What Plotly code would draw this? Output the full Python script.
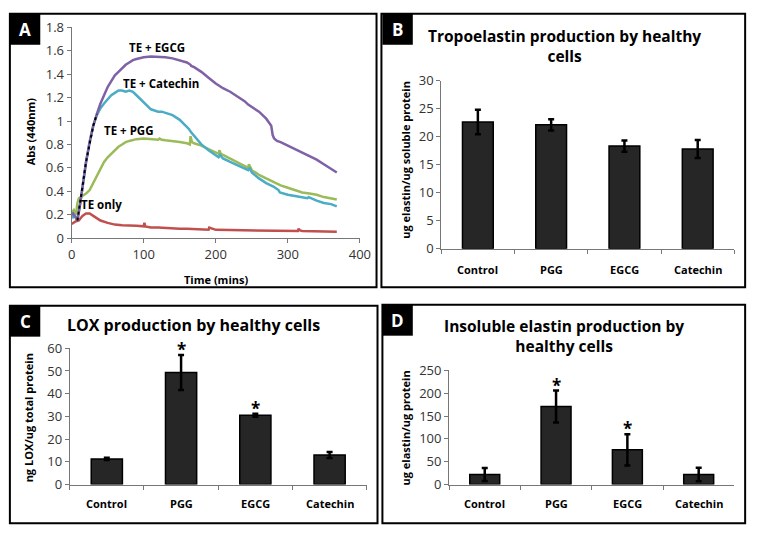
import plotly.graph_objects as go

W, H = 763, 538

# ---- Panel A: absorbance time courses
egcg_t = [0, 2, 4, 6, 8, 12, 16, 20, 25, 30, 35, 40, 45, 50, 55, 60, 65, 70, 75, 80, 85, 90, 95, 100, 110,
          120, 130, 140, 150, 160, 165, 166, 170, 180, 190, 200, 210, 220, 230, 240, 245, 250, 260, 270,
          277, 279, 281, 285, 290, 300, 310, 320, 330, 340, 350, 360, 368]
egcg_v = [0.2, 0.21, 0.19, 0.17, 0.15, 0.3, 0.48, 0.65, 0.82, 0.96, 1.06, 1.15, 1.22, 1.29, 1.34, 1.39, 1.42,
          1.45, 1.48, 1.5, 1.52, 1.53, 1.54, 1.545, 1.55, 1.55, 1.545, 1.535, 1.52, 1.5, 1.48, 1.47, 1.46,
          1.42, 1.37, 1.32, 1.28, 1.25, 1.21, 1.17, 1.14, 1.12, 1.08, 1.02, 0.96, 0.88, 0.85, 0.83, 0.82,
          0.79, 0.76, 0.73, 0.7, 0.67, 0.63, 0.59, 0.56]

cat_t = [0, 2, 4, 6, 8, 12, 16, 20, 25, 30, 35, 40, 45, 50, 55, 60, 65, 70, 75, 80, 85, 90, 95, 100, 105, 110,
         115, 120, 125, 130, 140, 150, 160, 163, 165, 170, 180, 190, 200, 204, 206, 210, 220, 230, 240, 245,
         247, 250, 260, 270, 280, 287, 289, 300, 310, 320, 327, 329, 340, 350, 360, 368]
cat_v = [0.2, 0.18, 0.2, 0.17, 0.15, 0.3, 0.48, 0.65, 0.82, 0.96, 1.05, 1.11, 1.15, 1.19, 1.22, 1.24, 1.26,
         1.26, 1.25, 1.26, 1.25, 1.22, 1.19, 1.16, 1.13, 1.1, 1.09, 1.08, 1.08, 1.07, 1.05, 1.01, 0.95, 0.93,
         0.91, 0.87, 0.8, 0.75, 0.71, 0.69, 0.71, 0.68, 0.65, 0.62, 0.59, 0.58, 0.6, 0.56, 0.51, 0.47, 0.44,
         0.41, 0.39, 0.37, 0.36, 0.35, 0.34, 0.35, 0.32, 0.3, 0.29, 0.27]

pgg_t = [0, 3, 6, 8, 10, 15, 20, 25, 30, 35, 40, 45, 50, 55, 60, 65, 70, 75, 80, 90, 100, 110, 120, 122, 125,
         130, 140, 150, 160, 164, 165, 167, 170, 180, 190, 200, 204, 205, 207, 210, 220, 230, 240, 245, 246,
         248, 250, 260, 270, 280, 290, 300, 310, 320, 330, 340, 350, 360, 368]
pgg_v = [0.22, 0.24, 0.2, 0.3, 0.34, 0.36, 0.38, 0.41, 0.47, 0.54, 0.6, 0.65, 0.69, 0.72, 0.75, 0.78, 0.8,
         0.82, 0.83, 0.845, 0.85, 0.845, 0.84, 0.85, 0.84, 0.835, 0.83, 0.82, 0.81, 0.8, 0.87, 0.82, 0.81,
         0.79, 0.76, 0.73, 0.72, 0.75, 0.72, 0.71, 0.68, 0.65, 0.62, 0.6, 0.63, 0.6, 0.58, 0.54, 0.51, 0.48,
         0.45, 0.43, 0.41, 0.39, 0.38, 0.37, 0.35, 0.34, 0.33]

te_t = [0, 5, 10, 15, 20, 25, 30, 35, 40, 50, 60, 70, 80, 90, 100, 101, 102, 110, 120, 130, 140, 150, 160,
        180, 190, 191, 200, 220, 240, 260, 280, 300, 314, 315, 317, 320, 340, 360, 368]
te_v = [0.12, 0.14, 0.15, 0.19, 0.21, 0.21, 0.19, 0.17, 0.15, 0.13, 0.115, 0.11, 0.11, 0.105, 0.1, 0.13, 0.1,
        0.09, 0.09, 0.085, 0.08, 0.08, 0.08, 0.075, 0.072, 0.09, 0.07, 0.068, 0.065, 0.063, 0.062, 0.06,
        0.06, 0.08, 0.065, 0.06, 0.058, 0.056, 0.055]

dot_t = [8, 12, 16, 20, 25, 30, 35]
dot_v = [0.15, 0.3, 0.48, 0.65, 0.82, 0.96, 1.06]

# ---- Bar panels
cats = ["Control", "PGG", "EGCG", "Catechin"]
tropo = [22.6, 22.1, 18.3, 17.8]
tropo_err = [2.2, 1.0, 1.0, 1.6]
lox = [11.3, 49.3, 30.5, 13.0]
lox_err = [0.5, 7.7, 0.7, 1.3]
insol = [22, 171, 76, 22]
insol_err = [14, 35, 34, 15]
star_cats = ["PGG", "EGCG"]

FONT = "Open Sans"
fig = go.Figure()

for t, v, c in [(te_t, te_v, "#C0504D"), (pgg_t, pgg_v, "#9BBB59"),
                (cat_t, cat_v, "#4BACC6"), (egcg_t, egcg_v, "#7F62A6")]:
    fig.add_trace(go.Scatter(x=t, y=v, mode="lines", line=dict(color=c, width=2.5),
                             xaxis="x", yaxis="y", showlegend=False))
fig.add_trace(go.Scatter(x=dot_t, y=dot_v, mode="lines", line=dict(color="black", width=2, dash="dot"),
                         xaxis="x", yaxis="y", showlegend=False))

def add_bars(vals, errs, ax):
    fig.add_trace(go.Bar(x=cats, y=vals, xaxis="x" + ax, yaxis="y" + ax, width=0.42,
                         marker=dict(color="#262626", line=dict(color="black", width=1.5)),
                         error_y=dict(type="data", array=errs, color="black", thickness=2.5, width=3),
                         showlegend=False))

add_bars(tropo, tropo_err, "2")
add_bars(lox, lox_err, "3")
add_bars(insol, insol_err, "4")

def px(x):
    return x / W

def py(y):
    return 1 - y / H

tickfont = dict(family=FONT, size=13, color="#333")
axline = dict(showline=True, linecolor="#777", linewidth=1, ticks="outside", ticklen=4,
              tickcolor="#777", showgrid=False, zeroline=False, tickfont=tickfont)

layout = dict(
    width=W, height=H, margin=dict(l=0, r=0, t=0, b=0),
    paper_bgcolor="white", plot_bgcolor="white",
    xaxis=dict(domain=[px(69), px(363)], range=[0, 400], dtick=100, anchor="y", **axline),
    yaxis=dict(domain=[py(237), py(19)], range=[0, 1.8], dtick=0.2, anchor="x", **axline),
    xaxis2=dict(domain=[px(446), px(745)], anchor="y2", tickson="boundaries", showticklabels=False, **axline),
    yaxis2=dict(domain=[py(248), py(74)], range=[0, 30], dtick=5, anchor="x2", **axline),
    xaxis3=dict(domain=[px(67), px(370)], anchor="y3", tickson="boundaries", showticklabels=False, **axline),
    yaxis3=dict(domain=[py(492), py(351)], range=[0, 60], dtick=10, anchor="x3", **axline),
    xaxis4=dict(domain=[px(454), px(745)], anchor="y4", tickson="boundaries", showticklabels=False, **axline),
    yaxis4=dict(domain=[py(492), py(374)], range=[0, 250], dtick=50, anchor="x4", **axline),
)
fig.update_layout(**layout)

shapes = []
for x0, y0, x1, y1 in [(6, 5, 380, 288), (385, 5, 756, 288), (6, 307, 381, 532), (386, 306, 756, 532)]:
    shapes.append(dict(type="rect", xref="paper", yref="paper", x0=px(x0), x1=px(x1), y0=py(y0), y1=py(y1),
                       line=dict(color="black", width=2), fillcolor="rgba(0,0,0,0)"))
annos = []
for lab, x0, y0 in [("A", 6, 5), ("B", 386, 5), ("C", 6, 307), ("D", 386, 306)]:
    shapes.append(dict(type="rect", xref="paper", yref="paper", x0=px(x0), x1=px(x0 + 31), y0=py(y0),
                       y1=py(y0 + 32), line=dict(width=0), fillcolor="black"))
    annos.append(dict(text="<b>%s</b>" % lab, x=px(x0 + 15.5), y=py(y0 + 16), xref="paper", yref="paper",
                      xanchor="center", yanchor="middle",
                      showarrow=False, font=dict(family=FONT, size=17, color="white")))

bold = dict(family=FONT, color="black")

def txt(s, x, y, size, angle=0):
    annos.append(dict(text=s, x=px(x), y=py(y), xref="paper", yref="paper", showarrow=False,
                      xanchor="center", yanchor="middle",
                      textangle=angle, font=dict(size=size, **bold)))

# series labels in panel A
for s, t, v in [("TE + EGCG", 119, 1.63), ("TE + Catechin", 124, 1.32), ("TE + PGG", 80, 0.92), ("TE only", 42, 0.29)]:
    annos.append(dict(text="<b>%s</b>" % s, x=t, y=v, xref="x", yref="y", showarrow=False,
                      xanchor="center", yanchor="middle", font=dict(size=11.5, **bold)))

txt("<b>Abs (440nm)</b>", 27, 126, 11, -90)
txt("<b>Time (mins)</b>", 216, 280, 11)
txt("<b>Tropoelastin production by healthy<br>cells</b>", 572, 38, 15.5)
txt("<b>ug elastin/ug soluble protein</b>", 410, 156, 11, -90)
txt("<b>LOX production by healthy cells</b>", 193, 327, 16)
txt("<b>ng LOX/ug total protein</b>", 25, 423, 11, -90)
txt("<b>Insoluble elastin production by<br>healthy cells</b>", 571, 338, 15.5)
txt("<b>ug elastin/ug protein</b>", 410, 433, 11, -90)

for cx, ly in [((446, 745), 270), ((67, 370), 512), ((454, 745), 512)]:
    step = (cx[1] - cx[0]) / 4
    for i, c in enumerate(cats):
        txt("<b>%s</b>" % c, cx[0] + step * (i + 0.5), ly, 11)

# significance stars
for ax, vals, errs in [("3", lox, lox_err), ("4", insol, insol_err)]:
    for c in star_cats:
        i = cats.index(c)
        annos.append(dict(text="<b>*</b>", x=c, y=vals[i] + errs[i], xref="x" + ax, yref="y" + ax,
                          xanchor="center", yanchor="bottom", showarrow=False, yshift=-8,
                          font=dict(size=17, **bold)))

fig.update_layout(shapes=shapes, annotations=annos)
fig.write_html("out.html", config={"displayModeBar": False},
               post_script="document.body.style.margin='0';document.body.style.overflow='hidden';")
